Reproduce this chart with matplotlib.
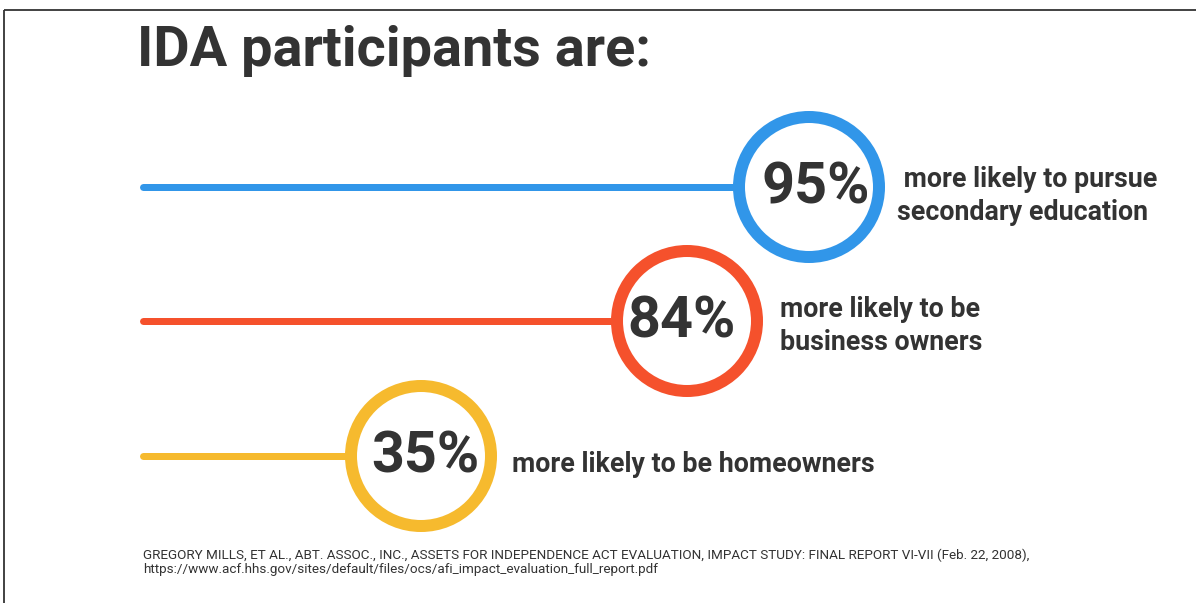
import matplotlib
matplotlib.use("Agg")
import matplotlib.pyplot as plt
from matplotlib.patches import Circle, Rectangle

# ---- data ----
title = "IDA participants are:"
values = [95, 84, 35]
descriptions = [" more likely to pursue\nsecondary education",
                "more likely to be\nbusiness owners",
                "more likely to be homeowners"]
source_note = ("GREGORY MILLS, ET AL., ABT. ASSOC., INC., ASSETS FOR INDEPENDENCE ACT EVALUATION, "
               "IMPACT STUDY: FINAL REPORT VI-VII (Feb. 22, 2008),\n"
               "https://www.acf.hhs.gov/sites/default/files/ocs/afi_impact_evaluation_full_report.pdf")

# ---- layout / style ----
colors = ["#3196E9", "#F5512C", "#F6BA2E"]
centers_x = [809, 687, 421]
rows_y = [187, 321, 456]
label_x = [816, 682, 425]
text_x = [897, 780, 512]
text_y = [196, 326, 464]
line_start = 143
ring_r = 70
ring_w = 12
text_color = "#333333"
W, H = 1196, 603

plt.rcParams['font.family'] = ['Roboto', 'DejaVu Sans']
fig = plt.figure(figsize=(W / 100, H / 100), dpi=100)
ax = fig.add_axes([0, 0, 1, 1])
ax.set_xlim(0, W)
ax.set_ylim(H, 0)
ax.axis("off")

# frame
ax.add_patch(Rectangle((3.5, 9.5), W + 10, H + 10, fill=False, edgecolor="#333333", lw=1.3))

ax.text(137, 51, title, fontsize=40.2, fontweight="bold", color=text_color,
        ha="left", va="center")

px = 72 / 100  # points per pixel
for v, d, c, cx, cy, lx, tx, ty in zip(values, descriptions, colors, centers_x, rows_y,
                                       label_x, text_x, text_y):
    ax.plot([line_start, cx - ring_r], [cy, cy], color=c, lw=7 * px,
            solid_capstyle="round", zorder=1)
    ax.add_patch(Circle((cx, cy), ring_r, facecolor="white", edgecolor=c,
                        lw=ring_w * px, zorder=2))
    ax.text(lx, cy + 1, f"{v}%", fontsize=41.4, fontweight="bold", color=text_color,
            ha="center", va="center", zorder=3)
    ax.text(tx, ty, d, fontsize=19.3, fontweight="bold", color=text_color,
            ha="left", va="center", linespacing=1.29, zorder=3)

ax.text(143, 562, source_note, fontsize=9.7, color=text_color, ha="left", va="center",
        linespacing=1.1)

fig.savefig("out.png", dpi=100)
